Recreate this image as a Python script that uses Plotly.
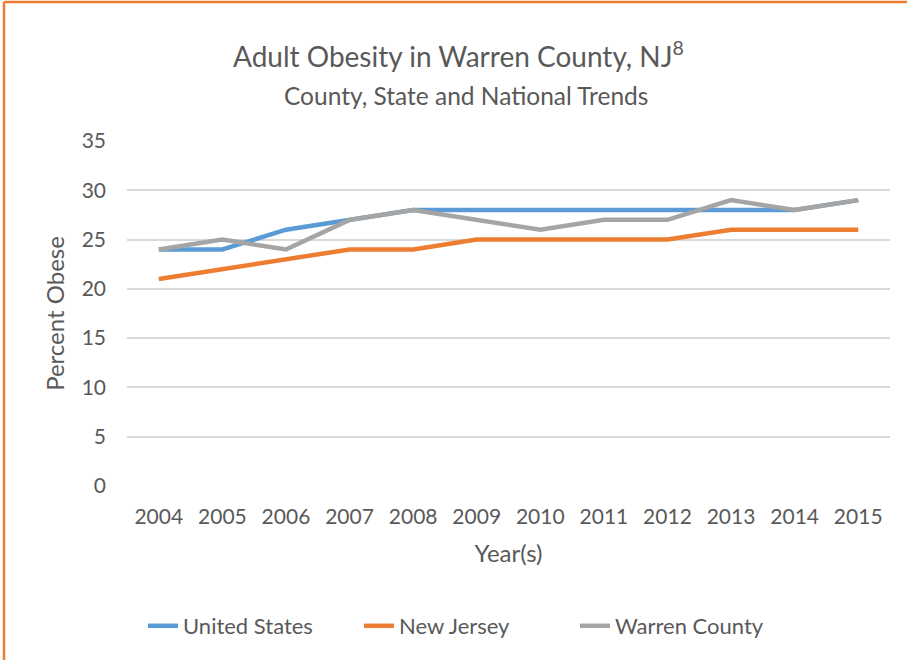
import plotly.graph_objects as go

years = ["2004", "2005", "2006", "2007", "2008", "2009", "2010", "2011", "2012", "2013", "2014", "2015"]
united_states = [24, 24, 26, 27, 28, 28, 28, 28, 28, 28, 28, 29]
new_jersey = [21, 22, 23, 24, 24, 25, 25, 25, 25, 26, 26, 26]
warren_county = [24, 25, 24, 27, 28, 27, 26, 27, 27, 29, 28, 29]

ink = '#595959'  # text color
grid = '#d9d9d9'
edge = '#ED7D31'  # frame color
font = "Lato"

W, H = 907, 660
ml, mr, mt, mb = 127, 17, 141, 174

fig = go.Figure()
fig.add_trace(go.Scatter(x=years, y=united_states, mode="lines", name="United States",
                         line=dict(color='#5B9BD5', width=4.5)))
fig.add_trace(go.Scatter(x=years, y=new_jersey, mode="lines", name="New Jersey",
                         line=dict(color='#ED7D31', width=4.5)))
fig.add_trace(go.Scatter(x=years, y=warren_county, mode="lines", name="Warren County",
                         line=dict(color='#A5A5A5', width=4.5)))

pw = W - ml - mr
ph = H - mt - mb
def px(x):
    return (x - ml) / pw
def py(y):
    return (H - mb - y) / ph

fig.update_layout(width=W, height=H,
                  margin=dict(l=ml, r=mr, t=mt, b=mb),
                  plot_bgcolor='white', paper_bgcolor='white',
                  font=dict(family=font, color=ink, size=21),
                  showlegend=True,
                  legend=dict(orientation='h', xanchor='left', x=px(143),
                              yanchor='middle', y=py(626),
                              font=dict(size=22, color=ink),
                              entrywidth=171, entrywidthmode='pixels',
                              itemwidth=30, tracegroupgap=0),
                  annotations=[
                      dict(text="Adult Obesity in Warren County, NJ<sup>8</sup>",
                           xref='paper', yref='paper', x=px(458), y=py(55),
                           xanchor='center', yanchor='middle', showarrow=False,
                           font=dict(size=28, color=ink)),
                      dict(text="County, State and National Trends",
                           xref='paper', yref='paper', x=px(466), y=py(95),
                           xanchor='center', yanchor='middle', showarrow=False,
                           font=dict(size=24.5, color=ink)),
                  ],
                  shapes=[
                      dict(type='line', xref='paper', yref='paper',
                           x0=px(4), x1=px(W + 5), y0=py(2), y1=py(2),
                           line=dict(color=edge, width=2.5)),
                      dict(type='line', xref='paper', yref='paper',
                           x0=px(4), x1=px(4), y0=py(2), y1=py(H + 5),
                           line=dict(color=edge, width=2.5)),
                  ])

fig.update_xaxes(type='category', range=[-0.5, 11.5], showgrid=False,
                 showline=False, zeroline=False, ticks='',
                 tickfont=dict(size=21, color=ink), ticklabelstandoff=16,
                 title=dict(text="Year(s)", font=dict(size=24, color=ink), standoff=18))
fig.update_yaxes(range=[0, 35], dtick=5, showgrid=True, gridcolor=grid, gridwidth=1.5,
                 zeroline=False, showline=False, ticks='',
                 tickfont=dict(size=21, color=ink), ticklabelstandoff=20,
                 title=dict(text="Percent Obese", font=dict(size=24, color=ink), standoff=10))

# drop the page's default body margin so the figure sits at the window corner
fig.write_html("out.html", config=dict(displayModeBar=False),
               post_script="document.body.style.margin='0';")
